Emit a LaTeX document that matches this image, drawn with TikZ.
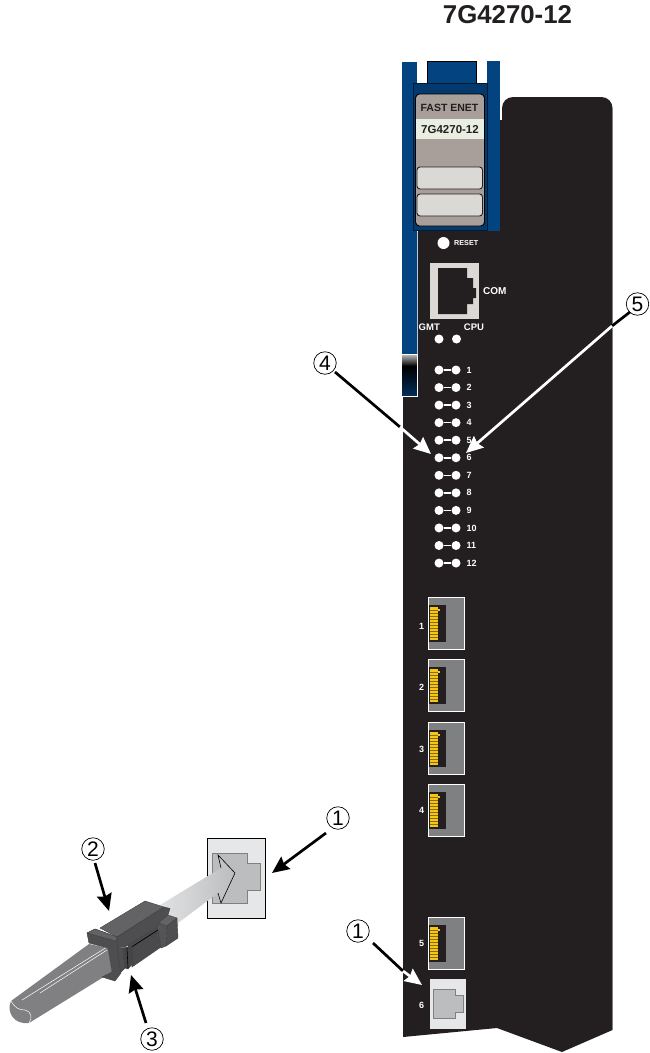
\documentclass[tikz,border=0pt]{standalone}
\usepackage{fontspec}
\setmainfont{Liberation Sans}
\usetikzlibrary{arrows.meta}
\definecolor{boardk}{HTML}{231F20}
\definecolor{bluep}{HTML}{03437F}
\definecolor{faceg}{HTML}{A89E9A}
\definecolor{btng}{HTML}{DBD9D5}
\definecolor{labg}{HTML}{E8EEE0}
\definecolor{portg}{HTML}{7F8082}
\definecolor{jackl}{HTML}{E6E7E8}
\definecolor{jackm}{HTML}{BCBDBF}
\definecolor{yel}{HTML}{F5C518}
\definecolor{plugd}{HTML}{4E4E50}
\definecolor{plugm}{HTML}{636365}
\definecolor{cableg}{HTML}{808082}
\tikzset{
  btxt/.style={font=\bfseries\fontsize{#1}{#1}\selectfont,inner sep=0pt},
  wtxt/.style={btxt=#1,text=white},
  circled/.style={circle,draw=black,line width=0.7pt,minimum size=22.5pt,inner sep=0pt,font=\fontsize{21}{21}\selectfont},
  led/.style={circle,fill=white,draw=none,minimum size=9pt,inner sep=0pt},
  blackln/.style={draw=black,line width=2.7pt},
  blackar/.style={draw=black,line width=2.7pt,-{Stealth[length=17pt,width=15pt,inset=2pt]}},
  whitear/.style={draw=white,line width=2.7pt,-{Stealth[length=17pt,width=15pt,inset=2pt]}},
  btn/.style={draw=boardk,line width=0.9pt,fill=btng,rounded corners=3pt},
  edge/.style={draw=black!75,line width=0.4pt},
}
\begin{document}
\begin{tikzpicture}[x=1pt,y=-1pt]
\useasboundingbox (0,0) rectangle (650,1053);
% board
\fill[boardk] (418,120) -- (502,120) [rounded corners=11pt] -- (502,97) -- (612.5,97) [sharp corners] -- (612.5,1030) -- (562,1052) -- (497,1028) -- (403,1037) -- (403,397) -- (418,397) -- cycle;
\draw[gray,line width=0.5pt] (612.7,108) -- (612.7,1030);
% MGMT under the strip
\node[wtxt=9.5,anchor=east] (mgmt) at (440,327) {MGMT};
% blue strip and module
\fill[bluep] (402,62) rectangle (416.5,354);
\fill[white!70!bluep] (416.5,232) rectangle (417.5,354);
\shade[top color=gray!60,bottom color=black,draw=none] (402,355) rectangle (417,366);
\shade[top color=black,bottom color=bluep!70!black,draw=none] (402,366) rectangle (417,396);
\draw[white,line width=0.8pt] (401.5,354.5) rectangle (417.5,396.5);
\fill[bluep] (487,61) rectangle (500,231);
\fill[bluep] (427,61.5) rectangle (476,84);
\draw[black,line width=0.4pt] (427,84) -- (427,61.5) -- (476,61.5) -- (476,84);
\fill[bluep!85!black,draw=black!60!bluep,line width=0.5pt] (413,83) rectangle (487,230);
\filldraw[fill=faceg,draw=black,line width=0.9pt,rounded corners=4pt] (415.5,94) rectangle (484.5,226);
\fill[labg] (416,118.5) rectangle (484,139);
\node[btxt=10.5,text=boardk] (fast) at (449.5,108) {FAST ENET};
\node[btxt=11.5,text=boardk] (lab) at (450,130) {7G4270-12};
\filldraw[btn] (417,167) rectangle (482.5,189);
\filldraw[btn] (417,194) rectangle (482.5,216);
% reset and console
\node[circle,fill=white,minimum size=12pt,inner sep=0pt] (reset) at (443.5,243) {};
\node[wtxt=7.2,anchor=west] (resettxt) at (454,243.5) {RESET};
\fill[btng] (430,263) rectangle (479,319);
\fill[boardk] (438,268) -- (467,268) -- (467,278) -- (473,278) -- (473,288) -- (476,288) -- (476,298) -- (473,298) -- (473,304) -- (467,304) -- (467,314) -- (438,314) -- cycle;
\node[wtxt=10,anchor=west] (com) at (483,291) {COM};
\node[wtxt=9.5] (cpu) at (474,327) {CPU};
\node[led] (ma) at (439,339) {};
\node[led] (mb) at (456.5,339) {};
% LEDs
\foreach \i in {1,...,12}{
  \pgfmathsetmacro{\yy}{370+(\i-1)*17.55}
  \node[led] (la\i) at (439,\yy) {};
  \node[led] (lb\i) at (456,\yy) {};
  \draw[white,line width=1.5pt] (la\i) -- (lb\i);
  \node[wtxt=9,anchor=west] (ln\i) at (466.5,\yy) {\i};
}
% RJ45 ports
\foreach \i/\yy/\ly in {1/597/626,2/659/687,3/722/749,4/784/810,5/917/943}{
  \begin{scope}[shift={(0,\yy)}]
    \filldraw[fill=portg,draw=white,line width=0.9pt] (428.5,0) rectangle (464,52);
    \fill[boardk] (429,8) rectangle (446,45);
    \fill[yel] (430,10) rectangle (438,43);
    \fill[yel] (438,12) rectangle (439.5,13.5);
    \foreach \k in {1,...,10}{
      \draw[yel!55!black,line width=0.35pt] (430,10+\k*3) -- (438,10+\k*3);
    }
  \end{scope}
  \node[wtxt=9] (pn\i) at (421.5,\ly) {\i};
}
% port 6
\fill[jackl] (430,979) rectangle (465.5,1029);
\filldraw[fill=jackm,draw=gray,line width=0.7pt] (433,989) -- (455,989) -- (455,995) -- (463,995) -- (463,1012) -- (455,1012) -- (455,1018) -- (433,1018) -- cycle;
\node[wtxt=9] (pn6) at (421.5,1005) {6};
% jack
\filldraw[fill=jackl,draw=black,line width=0.9pt] (207,838) rectangle (265,918);
\filldraw[fill=jackm,draw=gray,line width=0.7pt] (212,853) -- (247,853) -- (247,863) -- (260,863) -- (260,890) -- (247,890) -- (247,903) -- (212,903) -- cycle;
% big arrow
\shade[left color=jackl!95!gray,right color=jackm,draw=none] (160,905) -- (221,868) -- (218,855) -- (235,873) -- (221,903) -- (218,893) -- (178,923) -- cycle;
\draw[black,line width=0.6pt] (221,868) -- (218,855) -- (235,873) -- (221,903) -- (218,893);
% cable
\fill[cableg] (11,1001) -- (89,944) -- (108,948) -- (112,972) -- (102,978) -- (29,1023) .. controls (14,1025) and (6,1012) .. (11,1001) -- cycle;
\draw[white,line width=0.5pt] (11,1001) .. controls (15,1008) and (19,1010) .. (25,1010) .. controls (31,1011) and (33,1018) .. (29,1023);
\draw[white,line width=0.5pt] (22,1000) -- (107,947);
\draw[white,line width=0.5pt] (40,993) -- (107,950);
% plug: body top and side
\filldraw[fill=plugm,edge] (100,928) -- (145,901) -- (164,907) -- (117,937) -- cycle;
\filldraw[fill=plugd,edge] (117,937) -- (164,907) -- (170,908.5) -- (168,915) -- (158,923) -- (158,927) -- (125,947) -- (117,948) -- cycle;
% recess behind the latch
\filldraw[fill=plugm!75!black,edge] (128,945) -- (158,927) -- (161,947) -- (132,967) -- cycle;
\draw[black,line width=0.7pt] (130,948) -- (158,930);
% collar
\filldraw[fill=plugm,edge] (158,923) -- (168,915) -- (177,918) -- (167,926) -- cycle;
\filldraw[fill=plugd,edge] (167,926) -- (177,918) -- (178,938) -- (166,946) -- cycle;
\filldraw[fill=plugm!85!black,edge] (158,923) -- (167,926) -- (166,946) -- (161,948) -- cycle;
% cap around the cable
\filldraw[fill=plugd,edge] (117,948) -- (123,948) -- (125,968) -- (120,973) -- cycle;
\filldraw[fill=plugd,edge] (89,943) -- (108,948) -- (112,972) -- (102,977) -- (115,981) -- (121,973) -- (117,948) -- (117,937) -- (95,929) -- (87,933) -- cycle;
\filldraw[fill=plugm,edge] (87,933) -- (95,929) -- (117,937) -- (116,941) -- cycle;
% latch tab
\filldraw[fill=plugm!70!black,edge] (123,948) -- (132,946) -- (133,963) -- (128,969) -- (125,968) -- cycle;
\draw[black,line width=0.6pt] (127,948) -- (128,968);
% labels and arrows
\node[circled] (c1a) at (338,818) {1};
\node[circled] (c1b) at (358,931) {1};
\node[circled] (c2) at (93,849) {2};
\node[circled] (c3) at (152,1039) {3};
\node[circled] (c4) at (325,363) {4};
\node[circled] (c5) at (637.5,304) {5};
\coordinate (s1a) at (326,833); \coordinate (t1a) at (272,873);
\coordinate (s1b) at (373,943); \coordinate (m1b) at (403,971); \coordinate (t1b) at (422,985);
\coordinate (s2) at (95,863); \coordinate (t2) at (109,911);
\coordinate (s3) at (146,1023); \coordinate (t3) at (131,975);
\coordinate (s4) at (335,372); \coordinate (m4) at (400,427); \coordinate (t4) at (431,454);
\coordinate (s5) at (630,312); \coordinate (m5) at (612,326); \coordinate (t5) at (466,453);
\draw[blackar] (s1a) -- (t1a);
\draw[blackar] (s2) -- (t2);
\draw[blackar] (s3) -- (t3);
\draw[blackln] (s1b) -- (m1b);
\draw[whitear] (m1b) -- (t1b);
\draw[blackln] (s4) -- (m4);
\draw[whitear] (m4) -- (t4);
\draw[blackln] (s5) -- (m5);
\draw[whitear] (m5) -- (t5);
% title
\node[btxt=25.8,text=boardk] (title) at (507.5,14.5) {7G4270-12};
\end{tikzpicture}
\end{document}
